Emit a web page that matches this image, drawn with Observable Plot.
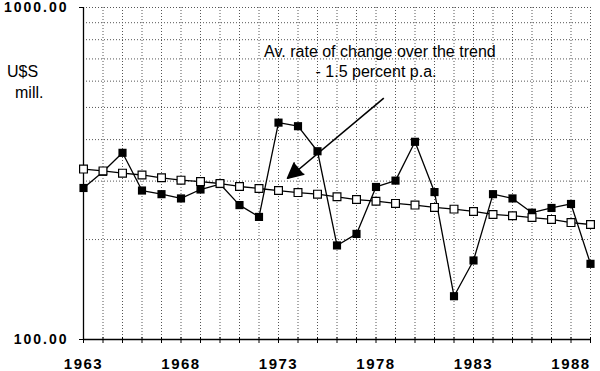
<!DOCTYPE html>
<html><head><meta charset="utf-8">
<script src="https://cdn.jsdelivr.net/npm/d3@7"></script>
<script src="https://cdn.jsdelivr.net/npm/@observablehq/plot@0.6"></script>
<style>
body{margin:0;background:#fff}
#chart svg{display:block}
#chart g[aria-label="x-axis tick label"] text{font-weight:bold;letter-spacing:1.5px}
#chart g[aria-label="y-axis tick label"] text{font-weight:bold;letter-spacing:2px}
</style></head><body><div id="chart"></div>
<script>
const years = [1963,1964,1965,1966,1967,1968,1969,1970,1971,1972,1973,1974,1975,1976,1977,1978,1979,1980,1981,1982,1983,1984,1985,1986,1987,1988,1989];
const actual = [286,320,365,281,274,266,283,294,254,234,450,439,369,192,208,288,301,394,278,135,173,274,266,241,249,256,169];
const trend = [326,322,317,313,307,302,299,295,289,285,281,277,274,269,264,261,257,254,250,247,243,238,236,233,230,225,222];
const labelYears = [1963,1968,1973,1978,1983,1988];
const yLabels = [100,1000];
const gridValues = [200,300,400,500,600,700,800,900,1000];
const noteLines = [
  {x:1978.2, y:708, text:"Av. rate of change over the trend"},
  {x:1978.0, y:616, text:"- 1.5 percent p.a."}
];
const arrowLine = [{x1:1978.4, y1:533, x2:1973.5, y2:306}];
const arrowTip = [{x:1973.46, y:306}];
const yTitle = ["U$S", "mill."];

const data = years.map((yr,i)=>({year:yr, actual:actual[i], trend:trend[i]}));
const gridYears = years.slice(1);

const plot = Plot.plot({
  width:600, height:371,
  marginLeft:83, marginRight:10, marginTop:7, marginBottom:32,
  style:{fontFamily:"'Liberation Sans', Arial, sans-serif", background:"#fff", color:"#000"},
  x:{domain:[1963,1989]},
  y:{type:"log", domain:[100,1000]},
  marks:[
    Plot.ruleX(gridYears, {stroke:"#555", strokeDasharray:"1,2"}),
    Plot.ruleY(gridValues, {stroke:"#555", strokeDasharray:"1,2"}),
    Plot.ruleX([1963], {stroke:"#000", strokeWidth:1.3}),
    Plot.ruleY([100], {stroke:"#000", strokeWidth:1.3}),
    Plot.axisX({ticks:years, tickSize:6, dy:-2, tickFormat:()=>"", stroke:"#000"}),
    Plot.axisX({ticks:labelYears, tickSize:0, tickPadding:19, tickFormat:d=>String(d), fontSize:15}),
    Plot.axisY({ticks:yLabels, tickSize:4, tickPadding:11, tickFormat:d=>d.toFixed(2), fontSize:14}),
    Plot.line(data, {x:"year", y:"actual", stroke:"#000", strokeWidth:1.3}),
    Plot.dot(data, {x:"year", y:"actual", symbol:"square", r:4.6, fill:"#000", stroke:"none"}),
    Plot.line(data, {x:"year", y:"trend", stroke:"#000", strokeWidth:1.3}),
    Plot.dot(data, {x:"year", y:"trend", symbol:"square", r:4.4, fill:"#fff", stroke:"#000", strokeWidth:1.2}),
    Plot.link(arrowLine, {x1:"x1", y1:"y1", x2:"x2", y2:"y2", stroke:"#000", strokeWidth:1.6}),
    Plot.vector(arrowTip, {x:"x", y:"y", length:15, rotate:230, shape:"spike", r:7.5, anchor:"end", fill:"#000", stroke:"#000"}),
    Plot.text(noteLines, {x:"x", y:"y", text:"text", fontSize:16, lineAnchor:"bottom", textAnchor:"middle", fill:"#000"})
  ]
});
document.getElementById("chart").appendChild(plot);
const svg = d3.select(plot);
svg.append("text").attr("x",7).attr("y",77).attr("text-anchor","start").attr("font-size",16).attr("fill","#000").text(yTitle[0]);
svg.append("text").attr("x",15).attr("y",98).attr("text-anchor","start").attr("font-size",16).attr("fill","#000").text(yTitle[1]);
</script></body></html>
